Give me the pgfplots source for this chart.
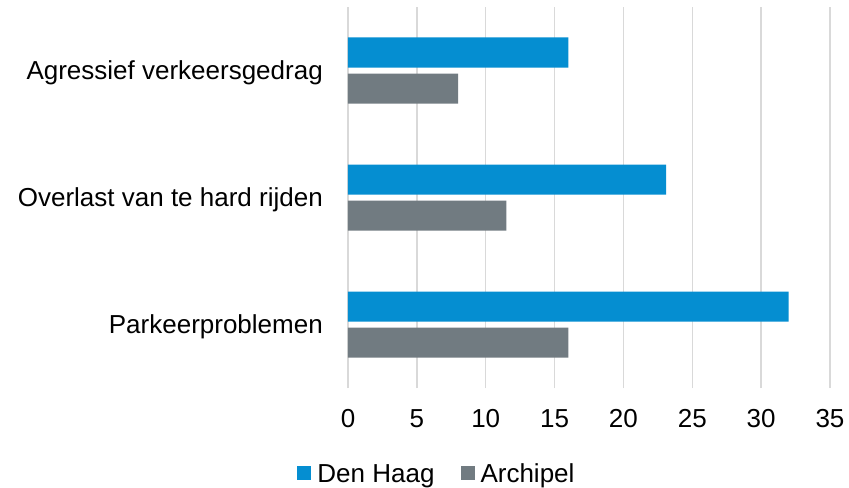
\documentclass[border=0pt]{standalone}
\usepackage{pgfplots}
\pgfplotsset{compat=1.18}
\usepackage{fontspec}
\setmainfont{Liberation Sans}
\definecolor{dhblue}{RGB}{5,142,209}
\definecolor{archgray}{RGB}{113,123,129}
\definecolor{gridgray}{RGB}{217,217,217}
\begin{document}
\begin{tikzpicture}
\path[use as bounding box] (-348bp,-100bp) rectangle (501bp,388bp);
\begin{axis}[
  at={(0,0)}, anchor=south west,
  scale only axis, width=482bp, height=381bp,
  xmin=0, xmax=35, ymin=-0.5, ymax=2.5,
  xtick={0,5,...,35}, ytick={0,1,2},
  yticklabels={Parkeerproblemen, Overlast van te hard rijden, Agressief verkeersgedrag},
  xmajorgrids, major grid style={gridgray, line width=1.4bp},
  axis line style={draw=none}, major tick length=0pt,
  xbar, bar width=30bp,
  font=\fontsize{26bp}{31bp}\selectfont,
  /pgf/number format/assume math mode=true,
  xticklabel style={anchor=center, yshift=-31bp},
  yticklabel style={anchor=base east, inner sep=0pt, xshift=-25bp, yshift=-9.3bp},
  legend image code/.code={\draw[#1,draw=none] (0bp,-6bp) rectangle (14bp,8bp);},
  legend style={draw=none, fill=none, legend columns=2,
    at={(0.1846,-0.226)}, anchor=center,
    font=\fontsize{26bp}{31bp}\selectfont,
    /tikz/every odd column/.append style={column sep=4bp},
    /tikz/every even column/.append style={column sep=24bp}},
]
\addplot[fill=dhblue, draw=none, bar shift=18bp] coordinates {(32,0) (23.1,1) (16,2)};
\addlegendentry{Den Haag}
\addplot[fill=archgray, draw=none, bar shift=-18bp] coordinates {(16,0) (11.5,1) (8,2)};
\addlegendentry{Archipel}
\end{axis}
\end{tikzpicture}
\end{document}
